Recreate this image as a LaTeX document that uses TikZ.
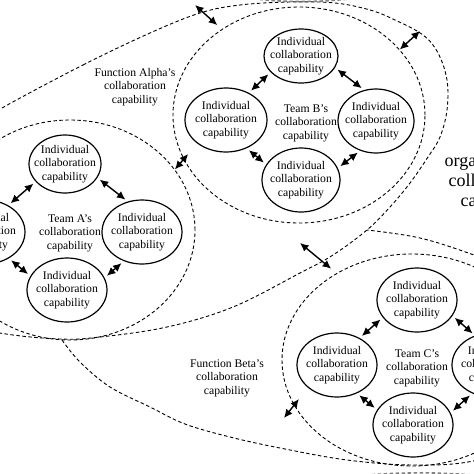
\documentclass[tikz,border=0pt]{standalone}
\usepackage{fontspec}
\setmainfont{Liberation Serif}
\usetikzlibrary{shapes.geometric, arrows.meta, positioning, calc}

\begin{document}
\begin{tikzpicture}[
    x=1pt, y=-1pt,
    outline/.style={line width=0.9pt, dash pattern=on 3.5pt off 2.5pt},
    team/.style={draw, ellipse, outline, inner sep=0pt},
    indiv/.style={draw, ellipse, line width=1.2pt, inner xsep=-6pt, inner ysep=0pt, minimum width=80pt, minimum height=64pt, align=center, font=\fontsize{11.7}{13.5}\selectfont},
    lbl/.style={align=center, font=\fontsize{11.7}{13.5}\selectfont},
    link/.style={{Latex[length=8.5pt,width=8pt]}-{Latex[length=8.5pt,width=8pt]}, line width=1.4pt, shorten <=3pt, shorten >=3pt},
]
    \useasboundingbox (0,0) rectangle (474,474);
    \clip (0,0) rectangle (474,474);

    % function outlines
    \draw[outline] plot[smooth cycle, tension=0.6] coordinates {(2,108) (83,65) (150,33) (200,13) (240,5) (290,2) (335,3) (370,10) (395,20) (423,35) (438,53) (447,80) (447,110) (440,137) (428,157) (410,183) (390,207) (367,230) (333,255) (300,273) (233,307) (167,327) (100,337) (60,339) (0,333) (-60,318) (-95,270) (-90,200) (-50,140)};
    \draw[outline] plot[smooth, tension=0.6] coordinates {(62,340) (80,362) (110,387) (150,407) (185,424) (230,437) (280,448) (347,460) (413,465) (473,461) (530,440) (570,350) (540,280) (474,255) (420,238) (367,230)};
    % organisational outline, only its edges show
    \draw[outline, gray, line width=1.6pt] (230,-6) .. controls (265,4) and (335,4) .. (380,-6);
    \draw[outline, gray, line width=1.6pt] (330,480) .. controls (380,470.5) and (460,470.5) .. (510,480);

    \node[team, minimum width=250pt, minimum height=220pt] (teamA) at (70,230) {};
    \node[team, minimum width=252pt, minimum height=216pt] (teamB) at (299,115) {};
    \node[team, minimum width=260pt, minimum height=212pt] (teamC) at (412,360) {};

    \node[lbl] (teamAtxt) at (70,233) {Team A's\\collaboration\\capability};
    \node[lbl] (teamBtxt) at (306,123) {Team B's\\collaboration\\capability};
    \node[lbl] (teamCtxt) at (417,368) {Team C's\\collaboration\\capability};

    \node[lbl] (alphaLbl) at (135,87) {Function Alpha's\\collaboration\\capability};
    \node[lbl] (betaLbl) at (227,378) {Function Beta's\\collaboration\\capability};
    \node[align=center, font=\fontsize{18}{20}\selectfont] (orgLbl) at (496,182) {organizational\\collaboration\\capability};

    % team A
    \node[indiv, minimum width=72pt, minimum height=58pt] (aTop) at (65,164) {Individual\\collaboration\\capability};
    \node[indiv] (aLeft) at (-15,232) {Individual\\collaboration\\capability};
    \node[indiv] (aRight) at (142,232) {Individual\\collaboration\\capability};
    \node[indiv] (aBottom) at (67,290) {Individual\\collaboration\\capability};

    % team B
    \node[indiv, minimum width=74pt, minimum height=54pt] (bTop) at (301,56) {Individual\\collaboration\\capability};
    \node[indiv, minimum width=82pt] (bLeft) at (226,120) {Individual\\collaboration\\capability};
    \node[indiv, minimum width=76pt] (bRight) at (376,121) {Individual\\collaboration\\capability};
    \node[indiv, minimum width=78pt] (bBottom) at (301,180) {Individual\\collaboration\\capability};

    % team C
    \node[indiv] (cTop) at (417,300) {Individual\\collaboration\\capability};
    \node[indiv] (cLeft) at (337,365) {Individual\\collaboration\\capability};
    \node[indiv] (cRight) at (492,365) {Individual\\collaboration\\capability};
    \node[indiv] (cBottom) at (413,425) {Individual\\collaboration\\capability};

    \draw[link] (aTop.211) -- (aLeft.49);
    \draw[link] (aTop.337) -- (aRight.115);
    \draw[link] (aLeft.312) -- (aBottom.159);
    \draw[link] (aBottom.18) -- (aRight.238);

    \draw[link] (bTop.208) -- (bLeft.50);
    \draw[link] (bTop.341) -- (bRight.111);
    \draw[link] (bLeft.306) -- (bBottom.156);
    \draw[link] (bBottom.18) -- (bRight.242);

    \draw[link] (cTop.207) -- (cLeft.50);
    \draw[link] (cTop.336) -- (cRight.120);
    \draw[link] (cLeft.305) -- (cBottom.157);
    \draw[link] (cBottom.18) -- (cRight.235);

    % between the groups
    \coordinate (alphaTop) at (195,5);
    \coordinate (alphaRight) at (420,31);
    \coordinate (alphaLow) at (300,243);
    \coordinate (betaLeft) at (284,418);
    \draw[link, shorten <=0pt, shorten >=6pt] (alphaTop) -- (teamB.132);
    \draw[link, shorten <=0pt, shorten >=0pt] (teamB.33) -- (alphaRight);
    \draw[link, shorten <=0pt, shorten >=-7pt] (teamA.30) -- (teamB.201);
    \draw[link, shorten <=0pt, shorten >=7pt] (alphaLow) -- (teamC.131);
    \draw[link, shorten <=0pt, shorten >=-8pt] (betaLeft) -- (teamC.201);
\end{tikzpicture}
\end{document}
